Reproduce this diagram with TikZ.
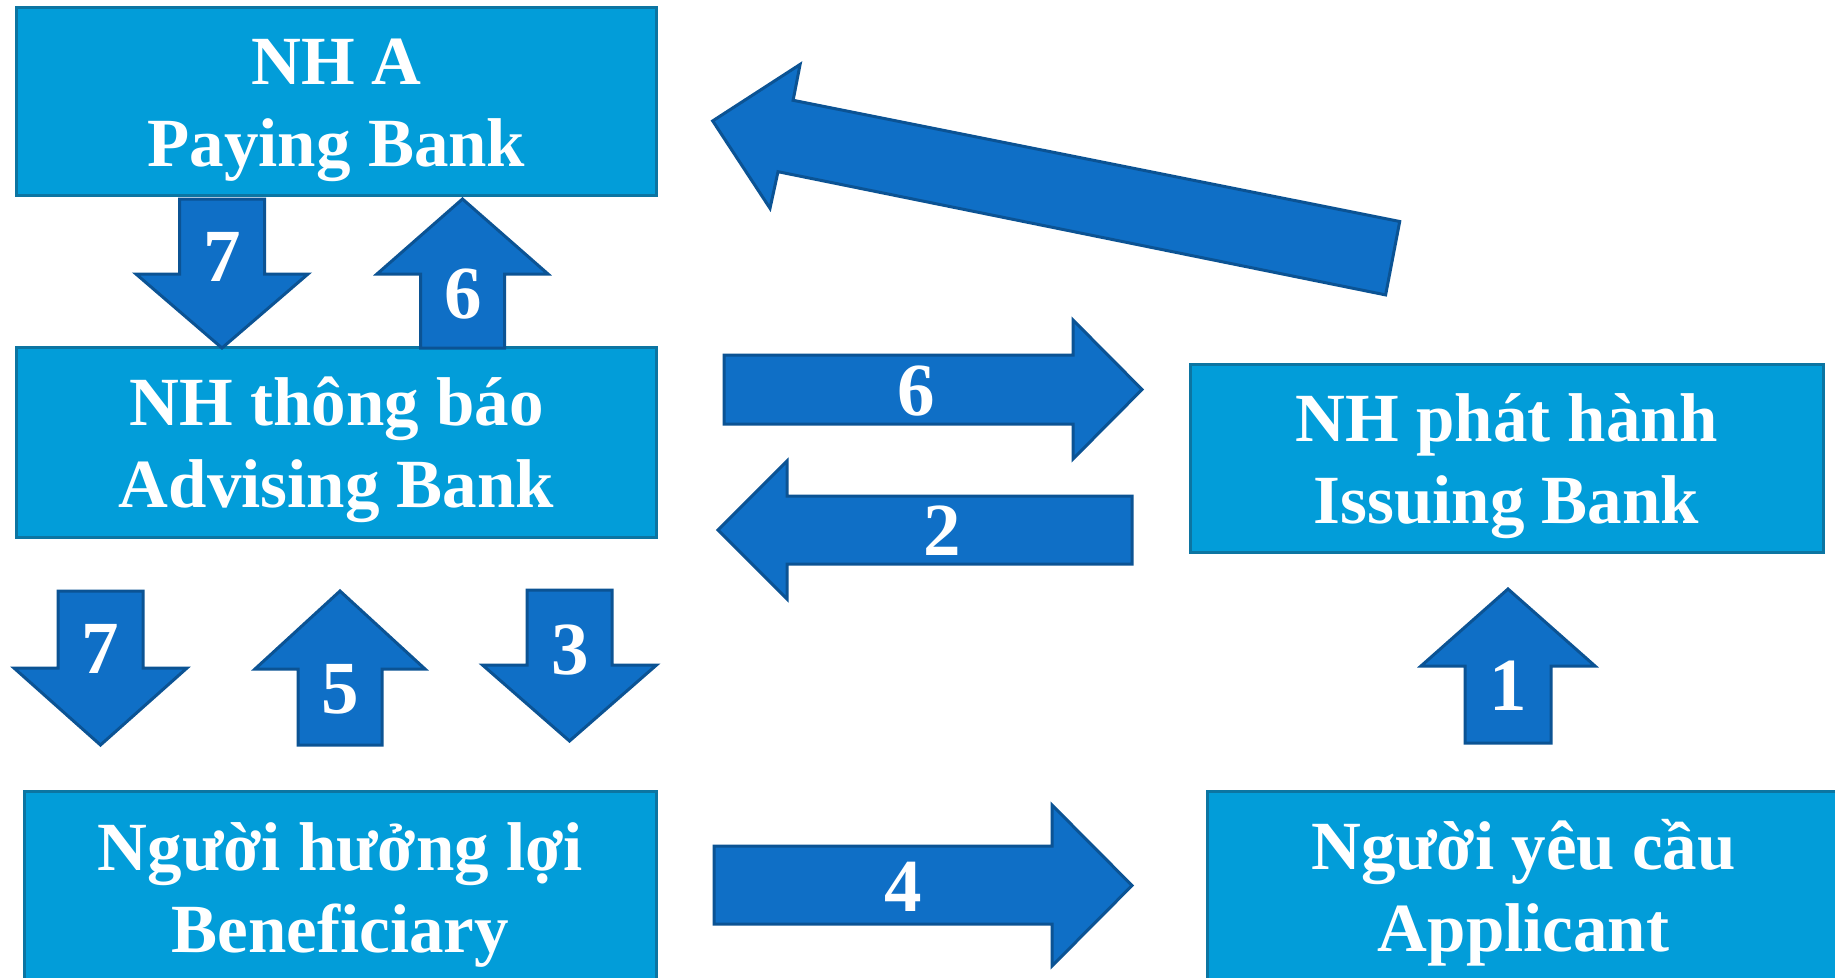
\documentclass[tikz,border=0pt]{standalone}
\usepackage{fontspec}
\setmainfont{Liberation Serif}
\definecolor{boxfill}{RGB}{2,157,217}
\definecolor{boxline}{RGB}{12,117,162}
\definecolor{arrfill}{RGB}{15,111,198}
\definecolor{arrline}{RGB}{11,83,148}
\tikzset{
  bankbox/.style={draw=boxline, fill=boxfill, line width=3pt, inner sep=0pt},
  blockarrow/.style={draw=arrline, fill=arrfill, line width=3pt, line join=miter},
  boxtext/.style={text=white, font=\fontsize{69}{82}\selectfont\bfseries, anchor=base, inner sep=0pt},
  stepnum/.style={text=white, font=\fontsize{75}{80}\selectfont\bfseries, inner sep=0pt},
}
\begin{document}
\begin{tikzpicture}[x=1pt,y=-1pt]
\useasboundingbox (0,0) rectangle (1835,977);
\clip (0,0) rectangle (1835,977);
\fill[white] (0,0) rectangle (1835,977);

% ---- banks and parties ----
\node[bankbox, minimum width=640pt, minimum height=188.5pt] (payA) at (336.5,101.25) {};
\node[boxtext] (payA-l1) at (336.5,84) {NH A};
\node[boxtext] (payA-l2) at (336.5,166) {Paying Bank};

\node[bankbox, minimum width=640pt, minimum height=190pt] (adv) at (336.5,442) {};
\node[boxtext] (adv-l1) at (336.5,425.5) {NH thông báo};
\node[boxtext] (adv-l2) at (336.5,507.5) {Advising Bank};

\node[bankbox, minimum width=633pt, minimum height=188pt] (iss) at (1506.5,458) {};
\node[boxtext] (iss-l1) at (1506.5,441.5) {NH phát hành};
\node[boxtext] (iss-l2) at (1506.5,523.5) {Issuing Bank};

\node[bankbox, minimum width=631.5pt, minimum height=209pt] (ben) at (340.25,895.5) {};
\node[boxtext] (ben-l1) at (340.25,870) {Người hưởng lợi};
\node[boxtext] (ben-l2) at (340.25,952) {Beneficiary};

\node[bankbox, minimum width=633pt, minimum height=209pt] (app) at (1523.5,895.5) {};
\node[boxtext] (app-l1) at (1523.5,869) {Người yêu cầu};
\node[boxtext] (app-l2) at (1523.5,951) {Applicant};

% ---- block arrows ----
% issuing bank -> paying bank (slanted)
\draw[blockarrow] (712.7,120.9) -- (800.1,64.4) -- (793.1,100.3) -- (1399.7,221.5)
  -- (1385.6,294.9) -- (778,171.7) -- (770,208.3) -- cycle;

% 7: paying bank -> advising bank
\draw[blockarrow] (179.5,199) -- (264.5,199) -- (264.5,274) -- (308,274) -- (222,348)
  -- (136,274) -- (179.5,274) -- cycle;
\node[stepnum] (s7a) at (222,257) {7};

% 6: advising bank -> paying bank
\draw[blockarrow] (462.5,199) -- (548,274) -- (504.5,274) -- (504.5,348) -- (420.5,348)
  -- (420.5,274) -- (377,274) -- cycle;
\node[stepnum] (s6a) at (463,294) {6};

% 6: advising bank -> issuing bank
\draw[blockarrow] (724,355) -- (1073,355) -- (1073,320) -- (1142,389.5) -- (1073,459)
  -- (1073,424) -- (724,424) -- cycle;
\node[stepnum] (s6b) at (916,391) {6};

% 2: issuing bank -> advising bank
\draw[blockarrow] (1132,496) -- (787,496) -- (787,461) -- (718,530) -- (787,599)
  -- (787,564) -- (1132,564) -- cycle;
\node[stepnum] (s2) at (942,531) {2};

% 7: advising bank -> beneficiary
\draw[blockarrow] (58,591) -- (143,591) -- (143,668) -- (187,668) -- (100.5,745)
  -- (14,668) -- (58,668) -- cycle;
\node[stepnum] (s7b) at (100,649) {7};

% 5: beneficiary -> advising bank
\draw[blockarrow] (340,591) -- (425,669) -- (382,669) -- (382,745) -- (298,745)
  -- (298,669) -- (255,669) -- cycle;
\node[stepnum] (s5) at (340,689) {5};

% 3: advising bank -> beneficiary
\draw[blockarrow] (527,590) -- (612,590) -- (612,665) -- (656.5,665) -- (569.5,741)
  -- (482.5,665) -- (527,665) -- cycle;
\node[stepnum] (s3) at (570,650) {3};

% 1: applicant -> issuing bank
\draw[blockarrow] (1508,589) -- (1595,666) -- (1551,666) -- (1551,743) -- (1465,743)
  -- (1465,666) -- (1421,666) -- cycle;
\node[stepnum] (s1) at (1508,686) {1};

% 4: beneficiary -> applicant
\draw[blockarrow] (714,846) -- (1052,846) -- (1052,805) -- (1132,885.5) -- (1052,966)
  -- (1052,924) -- (714,924) -- cycle;
\node[stepnum] (s4) at (903,887) {4};
\end{tikzpicture}
\end{document}
